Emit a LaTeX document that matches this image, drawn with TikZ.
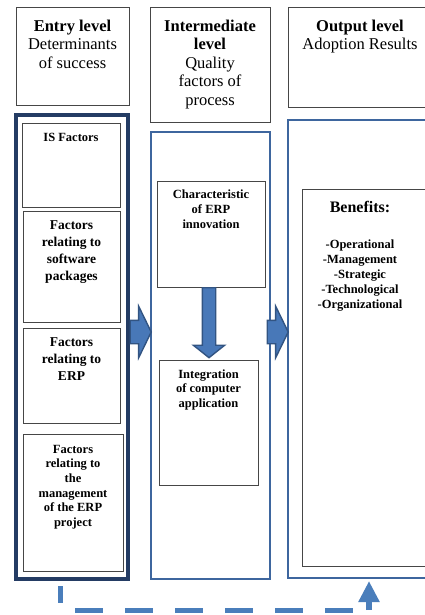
\documentclass[tikz,border=0pt]{standalone}
\usepackage{fontspec}
\setmainfont{Liberation Serif}
\usepackage{xcolor}
\usetikzlibrary{arrows.meta}
\usetikzlibrary{shapes.arrows,positioning}
\definecolor{framenavy}{RGB}{36,60,100}
\definecolor{frameblue}{RGB}{62,102,158}
\definecolor{arrowfill}{RGB}{72,120,184}
\definecolor{arrowline}{RGB}{50,84,130}
\definecolor{dashblue}{RGB}{74,126,187}
\definecolor{boxgray}{RGB}{70,70,70}

\begin{document}
\begin{tikzpicture}[x=1pt,y=-1pt]
  \tikzset{hbox/.style = {shape=rectangle,draw=boxgray,line width=1pt,inner sep=0pt,outer sep=0pt}}
  \tikzset{fbox/.style = {shape=rectangle,draw=boxgray,line width=0.9pt,inner sep=0pt,outer sep=0pt}}
  \tikzset{levelframe/.style = {shape=rectangle,draw=frameblue,line width=2.6pt,inner sep=0pt,outer sep=0pt}}
  \tikzset{htext/.style = {align=center,inner sep=0pt,font=\fontsize{16.5}{18.5}\selectfont}}
  \tikzset{ftext/.style = {align=center,inner sep=0pt,font=\bfseries\fontsize{12.5}{14.6}\selectfont}}
  \tikzset{ftextbig/.style = {align=center,inner sep=0pt,font=\bfseries\fontsize{13.5}{17}\selectfont}}
  \tikzset{blockarrow/.style = {shape=single arrow,draw=arrowline,fill=arrowfill,line width=1.4pt,inner xsep=0pt,inner ysep=11pt,
      minimum width=50pt,single arrow head extend=14pt,single arrow tip angle=128,minimum height=21pt}}
  \tikzset{feedback/.style = {draw=dashblue,line width=5pt,dash pattern=on 28pt off 22pt,dash phase=11pt}}
  \tikzset{feedtip/.style = {draw=dashblue,line width=6pt,-{Triangle[width=20pt,length=21pt]}}}

  \useasboundingbox (0,0) rectangle (424,615);

  % level headers
  \node[hbox,minimum width=113pt,minimum height=98pt] (hEntry) at (72.5,57) {};
  \node[hbox,minimum width=120pt,minimum height=114pt] (hInter) at (210,65) {};
  \node[hbox,minimum width=152pt,minimum height=100pt] (hOutput) at (364,58) {};
  \node[htext,below=11.5pt of hEntry.north] (tEntry) {\textbf{Entry level}\\Determinants\\of success};
  \node[htext,below=11.5pt of hInter.north] (tInter) {\textbf{Intermediate}\\\textbf{level}\\Quality\\factors of\\process};
  \node[htext,below=11.5pt of hOutput.north,xshift=-4pt] (tOutput) {\textbf{Output level}\\Adoption Results};

  % level frames
  \node[levelframe,draw=framenavy,line width=3.2pt,minimum width=112pt,minimum height=464pt] (fEntry) at (72,347) {};
  \node[levelframe,minimum width=119pt,minimum height=447pt] (fInter) at (210.5,355.5) {};
  \node[levelframe,minimum width=152pt,minimum height=458pt] (fOutput) at (364,349) {};

  % entry level factors
  \node[fbox,minimum width=98pt,minimum height=84pt] (bIS) at (71,165) {};
  \node[fbox,minimum width=97pt,minimum height=111pt] (bSoft) at (71.5,266.5) {};
  \node[fbox,minimum width=97pt,minimum height=95pt] (bERP) at (71.5,375.5) {};
  \node[fbox,minimum width=100pt,minimum height=137pt] (bMgmt) at (73,502.5) {};
  \node[ftext,below=10pt of bIS.north] (tIS) {IS Factors};
  \node[ftextbig,below=9.5pt of bSoft.north] (tSoft) {Factors\\relating to\\software\\packages};
  \node[ftextbig,below=9.5pt of bERP.north] (tERP) {Factors\\relating to\\ERP};
  \node[ftext,below=11pt of bMgmt.north] (tMgmt) {Factors\\relating to\\the\\management\\of the ERP\\project};

  % process quality
  \node[fbox,minimum width=108pt,minimum height=106pt] (bChar) at (211,234) {};
  \node[fbox,minimum width=99pt,minimum height=125pt] (bInteg) at (208.5,422.5) {};
  \node[ftext,below=9pt of bChar.north] (tChar) {Characteristic\\of ERP\\innovation};
  \node[ftext,below=9.5pt of bInteg.north] (tInteg) {Integration\\of computer\\application};

  % results
  \node[fbox,minimum width=128pt,minimum height=377pt] (bBen) at (366,377.5) {};
  \node[align=center,inner sep=0pt,font=\bfseries\fontsize{16}{18}\selectfont,anchor=north] (tBen) at (360,201.5) {Benefits:};
  \node[ftext,font=\bfseries\fontsize{12.5}{15}\selectfont,below=26.5pt of tBen] (tBenList)
    {-Operational\\-Management\\-Strategic\\-Technological\\-Organizational};

  % block arrows
  \coordinate (arrowrow) at (0,332);
  \foreach \from/\to in {fEntry/fInter, fInter/fOutput}
    \node[blockarrow,anchor=tip] (ar-\from) at ([xshift=1pt]\to.west |- arrowrow) {};
  \node[blockarrow,shape border rotate=270,inner sep=6pt,minimum width=30pt,single arrow head extend=9pt,
    single arrow tip angle=103,minimum height=70pt,anchor=tail] (arDown) at ([xshift=-2pt]bChar.south) {};

  % feedback loop
  \coordinate (fbStart) at (60,586);
  \coordinate (fbEnd) at (369,610);
  \draw[feedback] (fbStart) |- (fbEnd);
  \draw[feedtip,shorten >=3pt] (fbEnd) -- (fbEnd |- fOutput.south);
\end{tikzpicture}
\end{document}
